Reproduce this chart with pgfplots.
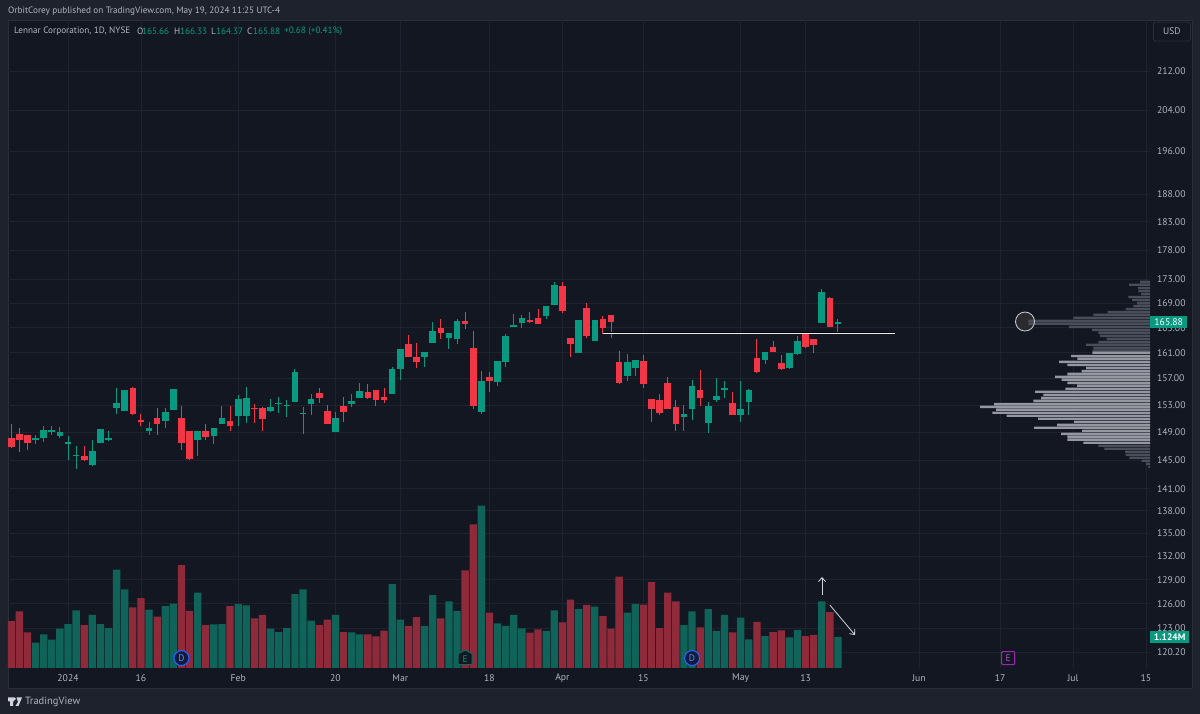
\documentclass[border=0pt]{standalone}
\usepackage{fontspec}
\setmainfont{PT Sans}
\usepackage{pgfplots}
\usepackage{pgfplotstable}
\pgfplotsset{compat=1.18}
\usetikzlibrary{arrows.meta}
\definecolor{bgo}{HTML}{1E222D}
\definecolor{bgi}{HTML}{131722}
\definecolor{gridc}{HTML}{1F2330}
\definecolor{bord}{HTML}{2A2E39}
\definecolor{txt}{HTML}{B2B5BE}
\definecolor{cg}{HTML}{089981}
\definecolor{cr}{HTML}{F23645}
\definecolor{vg}{HTML}{0F6358}
\definecolor{vr}{HTML}{8E2A39}
\definecolor{plight}{HTML}{9598A1}
\definecolor{pdark}{HTML}{4A4E5A}
\definecolor{anno}{HTML}{D1D4DC}
\definecolor{divb}{HTML}{2962FF}
\definecolor{divf}{HTML}{111C3D}
\definecolor{earnp}{HTML}{9C27B0}
\definecolor{earng}{HTML}{0B6B5F}
\definecolor{circf}{HTML}{2B2B2D}
\pgfplotstableread{
i O H L C
-4 147.84 148.61 147.31 148.22
-3 148.22 149.93 147.60 149.29
-2 148.95 149.83 148.51 149.24
-1 148.46 149.73 148.22 149.05
0 147.22 148.46 144.93 147.55
1 145.65 147.03 143.74 145.74
3 144.36 147.79 144.08 146.31
4 147.36 149.39 147.36 149.39
5 147.79 149.19 147.74 148.17
6 152.57 155.54 151.69 153.36
7 152.13 155.29 152.13 155.19
10 149.10 150.42 148.51 149.63
12 150.61 152.53 149.63 151.89
13 152.23 155.34 152.23 155.34
16 147.88 149.10 145.60 149.10
18 148.46 149.63 147.31 149.63
19 150.17 152.87 150.17 151.06
21 151.40 154.53 149.93 153.92
22 151.30 155.69 150.27 154.07
25 152.03 153.87 151.94 152.72
26 153.11 154.17 151.74 153.36
27 152.92 153.77 151.25 153.01
28 153.51 158.43 153.51 158.03
29 151.64 152.77 148.75 151.74
30 153.16 154.68 151.55 153.87
33 149.05 151.89 149.05 151.01
35 153.16 154.58 152.77 153.67
36 154.12 156.40 154.02 155.14
40 154.63 158.85 154.63 158.54
41 158.49 161.57 156.81 161.57
44 160.27 161.10 158.85 161.10
45 162.57 165.94 162.57 164.48
47 163.30 164.16 161.57 164.16
48 163.25 166.37 162.41 166.05
51 151.94 158.23 151.64 156.66
53 156.45 159.74 155.80 159.74
54 159.53 163.99 158.74 163.72
55 165.18 167.18 165.18 165.40
56 165.83 167.08 165.02 166.64
59 166.91 168.54 166.48 168.54
60 168.75 172.55 168.75 172.10
63 161.00 166.16 161.00 166.16
65 162.93 166.27 162.93 166.27
69 157.42 160.79 156.56 159.53
70 158.70 159.90 157.42 159.90
76 151.20 153.01 149.19 151.64
77 152.43 156.81 150.81 155.80
79 150.37 153.41 148.85 152.87
80 153.82 157.06 153.51 154.38
81 155.24 156.61 154.12 155.54
83 151.45 156.56 150.47 152.48
84 153.51 155.39 151.45 155.24
86 159.90 161.10 159.27 161.10
89 158.59 160.94 158.43 160.94
90 160.84 163.72 160.63 162.93
93 165.78 171.32 165.78 170.93
95 165.66 166.33 164.37 165.88
}\greencandles
\pgfplotstableread{
i O H L C
-7 148.12 150.22 146.70 146.79
-6 148.75 149.54 146.08 147.88
-5 148.51 148.60 146.46 147.36
2 145.50 146.93 144.93 144.98
8 155.49 155.69 151.64 151.69
9 150.71 151.69 149.93 150.42
11 151.01 152.53 148.61 150.22
14 151.01 152.92 146.41 147.50
15 149.19 149.19 144.93 145.08
17 149.19 150.17 147.88 148.36
20 150.56 152.87 149.14 149.83
23 152.57 153.16 150.37 152.48
24 152.57 152.77 149.14 150.96
31 154.78 155.64 153.36 154.12
32 152.13 153.01 150.17 150.17
34 152.87 154.17 150.47 151.94
37 155.03 156.15 154.02 154.07
38 155.24 155.24 152.87 153.82
39 154.17 155.54 153.26 153.72
42 162.41 163.83 160.42 160.42
43 160.32 162.51 158.70 159.53
46 164.97 166.48 163.14 164.16
49 166.05 167.56 164.75 165.51
50 161.83 164.53 152.38 152.82
52 157.27 158.03 155.03 156.56
57 166.27 167.51 165.83 165.94
58 166.64 168.05 165.51 165.51
61 171.88 172.44 167.35 167.78
62 163.30 163.30 160.27 162.41
64 168.16 169.08 163.30 163.67
66 166.37 166.91 163.94 164.91
67 167.02 167.02 163.40 165.94
68 159.53 161.31 156.20 156.30
71 159.74 160.58 155.54 156.10
72 153.87 153.87 150.47 152.48
73 153.77 154.68 151.45 151.79
74 156.40 157.21 152.43 152.43
75 152.72 153.77 149.19 150.17
78 155.24 158.33 152.87 154.07
82 153.36 154.98 151.55 151.55
85 160.16 163.19 157.98 158.08
87 161.94 162.88 161.10 161.10
88 159.43 160.68 158.33 158.43
91 164.05 164.21 161.89 161.94
92 163.14 163.14 160.94 162.30
94 169.92 170.09 165.13 165.13
}\redcandles
\pgfplotstableread{
i V
-4 0.919
-3 1.221
-2 1.027
-1 1.426
0 1.595
1 2.091
3 1.922
4 1.595
5 1.450
6 3.565
7 2.852
10 2.115
12 2.248
13 2.333
16 2.731
18 1.583
19 1.595
21 2.320
22 2.272
25 1.426
26 1.305
27 1.450
28 2.683
29 2.852
30 1.716
33 1.922
35 1.293
36 1.221
40 3.046
41 1.752
44 1.523
45 2.647
47 2.417
48 2.067
51 5.886
53 1.620
54 1.523
55 1.922
56 1.438
59 1.342
60 2.091
63 2.139
65 2.224
69 2.006
70 2.320
76 1.559
77 2.055
79 2.139
80 1.342
81 1.922
83 1.825
84 1.039
86 1.160
89 1.112
90 1.378
93 2.417
95 1.124
}\greenvol
\pgfplotstableread{
i V
-7 1.704
-6 2.055
-5 1.293
2 1.559
8 2.200
9 2.538
11 1.861
14 3.735
15 2.067
17 1.559
20 2.248
23 1.801
24 1.922
31 1.559
32 1.752
34 1.305
37 1.221
38 1.148
39 1.354
42 1.523
43 1.849
46 1.801
49 3.541
50 5.209
52 2.006
57 1.281
58 1.402
61 1.656
62 2.478
64 2.284
66 1.885
67 1.426
68 3.312
71 2.296
72 3.118
73 1.450
74 2.731
75 2.417
78 1.474
82 1.293
85 1.668
87 1.305
88 1.366
91 1.160
92 1.197
94 2.030
}\redvol
\pgfplotstableread{
p len
172.55 10
172.05 21
171.54 12
171.04 11.7
170.54 9
170.03 21.7
169.53 18
169.02 13
168.54 16.7
168.05 24.3
167.56 42.3
167.08 56.7
166.59 76.7
166.10 121.7
165.62 121.7
165.13 81
164.64 58
164.16 51.7
163.67 50
163.19 43.3
162.72 51.7
162.25 64
161.78 56.7
161.31 57.3
147.03 51.7
146.60 45.7
146.17 25
145.74 24.3
145.31 20.7
144.88 8.3
144.45 4
144.02 1.7
}\profdark
\pgfplotstableread{
p len
161.00 57.7
160.50 79
160.05 72.7
159.58 91
159.11 82.7
158.64 64
158.18 68.3
157.72 82.7
157.27 95
156.81 88.3
156.35 82.7
155.90 73
155.44 84.7
154.98 115
154.53 106.7
154.07 109
153.62 116.7
153.16 156
152.72 170
152.28 154
151.84 157.7
151.40 143.3
150.96 112
150.52 76
150.07 93
149.63 116
149.19 68
148.75 89
148.31 82.7
147.88 82.7
147.45 66.7
}\proflight
\newcommand{\lab}[1]{\fontsize{9.2}{12}\selectfont #1}
\pgfplotsset{common/.style={
  at={(8pt,46pt)}, anchor=south west, scale only axis,
  width=1142pt, height=622pt,
  xmin=-7.403, xmax=133.5, clip=true}}
\begin{document}
\begin{tikzpicture}[x=1pt,y=1pt]
\useasboundingbox (0,0) rectangle (1200,714);
\fill[bgo] (0,0) rectangle (1200,714);
\fill[bgi,draw=bord,line width=0.8pt] (8,26) rectangle (1192,694);
% main price axis
\begin{axis}[common,
  ymode=log, ymin=118.35, ymax=222.83, height=648pt,
  axis line style={draw=none}, major tick length=0pt,
  grid=major, grid style={gridc,line width=0.8pt},
  xtick={0,9,21,33,41,52,61,71,83,91,105,115,124,133},
  xticklabels={2024,16,Feb,20,Mar,18,Apr,15,May,13,Jun,17,Jul,15},
  ytick={212,204,196,188,183,178,173,169,165,161,157,153,149,145,141,138,135,132,129,126,123,120.2},
  yticklabels={212.00,204.00,196.00,188.00,183.00,178.00,173.00,169.00,165.00,161.00,157.00,153.00,149.00,145.00,141.00,138.00,135.00,132.00,129.00,126.00,123.00,120.20},
  yticklabel pos=right,
  tick label style={font=\fontsize{9.7}{12}\selectfont, color=txt},
  xticklabel style={anchor=center,yshift=-10pt},
  yticklabel style={anchor=west,xshift=3.5pt},
]
\addplot[draw=none,forget plot,error bars/.cd,y dir=both,y explicit,error mark=none,error bar style={cg,line width=1pt}]
  table[x=i,y=C,y error plus expr=\thisrow{H}-\thisrow{C},y error minus expr=\thisrow{C}-\thisrow{L}]{\greencandles};
\addplot[draw=none,forget plot,error bars/.cd,y dir=both,y explicit,error mark=none,error bar style={cr,line width=1pt}]
  table[x=i,y=C,y error plus expr=\thisrow{H}-\thisrow{C},y error minus expr=\thisrow{C}-\thisrow{L}]{\redcandles};
\addplot[draw=none,forget plot,error bars/.cd,y dir=plus,y explicit,error mark=none,error bar style={cg,line width=6.6pt}]
  table[x=i,y=O,y error plus expr=\thisrow{C}-\thisrow{O}]{\greencandles};
\addplot[draw=none,forget plot,error bars/.cd,y dir=plus,y explicit,error mark=none,error bar style={cr,line width=6.6pt}]
  table[x=i,y=C,y error plus expr=\thisrow{O}-\thisrow{C}]{\redcandles};
\addplot[black!70!bgi,line width=2.2pt] coordinates {(66,164.15)(102,164.15)};
\addplot[white!92!black,line width=0.9pt] coordinates {(66,164.15)(102,164.15)};
\end{axis}
% volume profile (horizontal bars from the right edge)
\begin{axis}[common,
  ymode=log, ymin=118.35, ymax=222.83, height=648pt,
  xmin=0, xmax=1142, x dir=reverse, axis lines=none, xbar, bar shift=0pt,
  bar width=2.3pt]
\fill[circf] (axis cs:125,166.0) circle [radius=9.5pt];
\addplot[fill=pdark,draw=none] table[x=len,y=p]{\profdark};
\addplot[fill=plight,draw=none] table[x=len,y=p]{\proflight};
\draw[anno,line width=0.8pt] (axis cs:125,166.0) circle [radius=9.5pt];
\end{axis}
% volume
\begin{axis}[common,
  height=648pt, ymin=0, ymax=23.5, axis lines=none, ybar, bar width=7.3pt, bar shift=0pt]
\addplot[fill=vg,draw=none] table[x=i,y=V]{\greenvol};
\addplot[fill=vr,draw=none] table[x=i,y=V]{\redvol};
\draw[anno,line width=0.8pt,-{Straight Barb[length=4pt,width=7pt]}] (axis cs:93.03,2.647) -- (axis cs:93.03,3.30);
\draw[anno,line width=0.8pt,-{Straight Barb[length=4pt,width=7pt]}] (axis cs:94,2.284) -- (axis cs:97.1,1.197);
\node[circle,draw=divb,fill=divf,line width=1.1pt,minimum size=15pt,inner sep=0pt,text=divb!75!white] at (axis cs:14,0.36) {\fontsize{9.5}{10}\selectfont D};
\node[circle,draw=divb,fill=divf,line width=1.1pt,minimum size=15pt,inner sep=0pt,text=divb!75!white] at (axis cs:77,0.36) {\fontsize{9.5}{10}\selectfont D};
\draw[earng,fill=bgi,line width=1.1pt,rounded corners=0.8pt] (axis cs:49,0.36) ++(0pt,8pt) -- ++(7pt,-3.5pt) -- ++(0pt,-11pt) -- ++(-14pt,0pt) -- ++(0pt,11pt) -- cycle;
\node[text=cg,inner sep=0pt] at (axis cs:49,0.33) {\fontsize{9.5}{10}\selectfont E};
\node[draw=earnp,fill=bgi,line width=1.1pt,minimum size=13pt,inner sep=0pt,text=earnp!80!white,rounded corners=1pt] at (axis cs:116,0.36) {\fontsize{9.5}{10}\selectfont E};
\end{axis}
% price tags
\node[fill=cg,text=white,minimum width=37pt,minimum height=12pt,inner sep=0pt,anchor=west] at (1150,392) {\fontsize{9.7}{12}\selectfont 165.88};
\node[fill=cg,text=white,minimum width=39pt,minimum height=12pt,inner sep=0pt,anchor=west] at (1150,77) {\fontsize{9.5}{12}\selectfont\bfseries 1.124M};
\node[draw=bord,rounded corners=2pt,text=txt,line width=0.8pt,minimum width=37pt,minimum height=19pt,inner sep=0pt,anchor=west] at (1153,682.5) {\fontsize{9.5}{12}\selectfont USD};
% header texts
\node[anchor=west,inner sep=0pt,text=txt] at (8,702.5) {\lab{OrbitCorey published on TradingView.com, May 19, 2024 11:25 UTC-4}};
\node[anchor=west,inner sep=0pt,text=txt] at (14,683) {\lab{Lennar Corporation, 1D, NYSE}};
\foreach \x/\t/\c in {137/O/txt,142/165.66/cg,174/H/txt,180/166.33/cg,211/L/txt,216/164.37/cg,247/C/txt,253/165.88/cg,284/{+0.68 (+0.41\%)}/cg}
  {\node[anchor=west,inner sep=0pt,text=\c] at (\x,683) {\lab{\t}};}
% footer
\fill[anno] (8,16.5) rectangle (14,12.5) (10,16.5) rectangle (13,8);
\fill[anno] (14.5,15) circle [radius=1.5pt];
\fill[anno] (16.5,16.5) -- (22,16.5) -- (18.5,8) -- (15.5,8) -- (18,12) -- cycle;
\node[anchor=west,inner sep=0pt,text=txt] at (25,12.5) {\fontsize{10.5}{12}\selectfont TradingView};
\end{tikzpicture}
\end{document}
